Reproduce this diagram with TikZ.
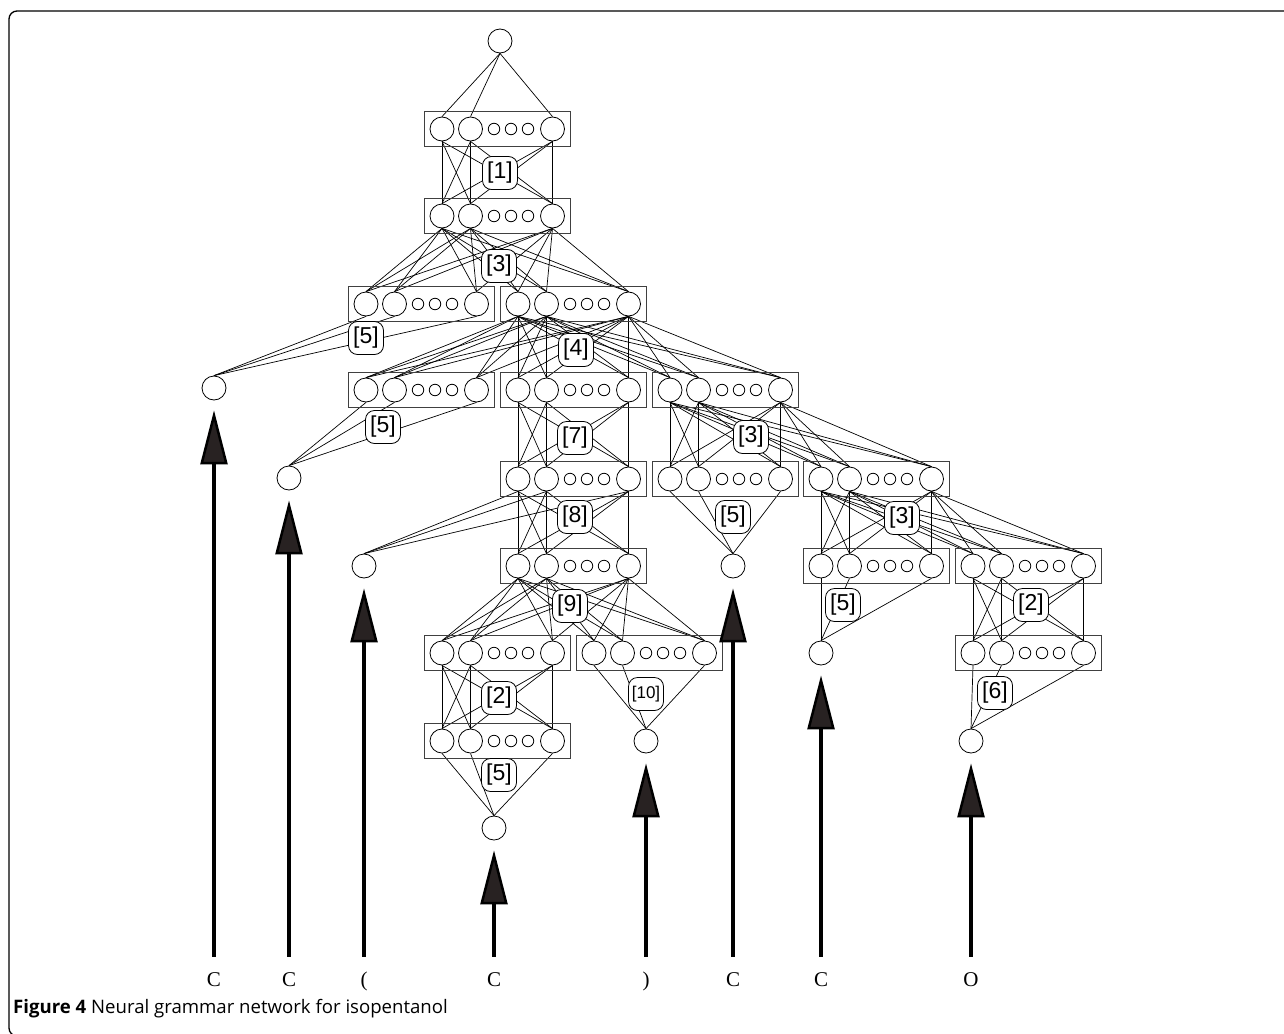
\documentclass[tikz,border=0pt]{standalone}
\usepackage{fontspec}
\setmainfont{Liberation Serif}
\setsansfont{Liberation Sans}
\newfontfamily\capfont{Open Sans}
\usetikzlibrary{arrows.meta}

\definecolor{tipgray}{RGB}{40,34,34}

\pgfdeclarelayer{wires}
\pgfsetlayers{wires,main}

\tikzset{
  neuron/.style={draw, circle, fill=white, minimum size=24pt, inner sep=0pt, line width=0.8pt},
  minineuron/.style={draw, circle, fill=white, minimum size=11.5pt, inner sep=0pt, line width=0.8pt},
  layerbox/.style={draw=black!75, rectangle, minimum width=146pt, minimum height=35pt, line width=1pt},
  rulebox/.style={draw, fill=white, rounded corners=9pt, minimum width=35pt, minimum height=33pt, inner sep=1pt, line width=0.8pt, font=\sffamily\fontsize{23}{23}\selectfont},
  wire/.style={line width=0.7pt},
  symb/.style={inner sep=0pt, text height=14pt, text depth=0pt, font=\fontsize{21}{21}\selectfont},
  feed/.style={line width=4pt, shorten <=15pt, shorten >=10pt, -{Triangle[length=54pt, width=27pt, line width=2.5pt, fill=tipgray]}},
}

% one layer: box, three big units and three small ones
\newcommand{\nnlayer}[3]{%
  \node[layerbox] (#1) at (#2,#3) {};
  \node[neuron] (#1-1) at (#2-55,#3) {};
  \node[neuron] (#1-2) at (#2-26.5,#3) {};
  \node[neuron] (#1-4) at (#2+55.5,#3) {};
  \foreach \dx [count=\k] in {-3,14,31} {
    \node[minineuron] (#1-s\k) at ({#2+(\dx)},#3) {};
  }
}
% all units of #1 to all units of #2
\newcommand{\fullwire}[2]{%
  \foreach \a in {1,2,4} {
    \foreach \b in {1,2,4} {
      \draw[wire] (#1-\a.south) -- (#2-\b.north);
    }
  }
}
% all units of #1 to the single node #2
\newcommand{\mergewire}[2]{%
  \foreach \a in {1,2,4} {
    \draw[wire] (#1-\a.south) -- (#2.north);
  }
}

\begin{document}
\begin{tikzpicture}[x=1pt,y=-1pt]
\useasboundingbox (0,0) rectangle (1284,1033);
\begin{scope}
\clip (0,0) rectangle (1284,1033);
\draw[line width=1.3pt, rounded corners=8pt] (1300,11) -- (9,11) -- (9,1036) -- (60,1036);
\end{scope}

% layers
\nnlayer{A1}{497}{129}
\nnlayer{A2}{497}{216}
\nnlayer{B1}{421}{304}
\nnlayer{B2}{573}{304}
\nnlayer{C1}{421}{390}
\nnlayer{C2}{573}{390}
\nnlayer{C3}{725}{390}
\nnlayer{D1}{573}{479}
\nnlayer{D2}{725}{479}
\nnlayer{D3}{876}{479}
\nnlayer{E1}{573}{566}
\nnlayer{E2}{876}{566}
\nnlayer{E3}{1028}{566}
\nnlayer{F1}{497}{653}
\nnlayer{F2}{649}{653}
\nnlayer{F3}{1028}{653}
\nnlayer{G1}{497}{741}

% single units, numbered like the input symbols below them
\node[neuron] (top) at (500,41) {};
\node[neuron] (n1) at (214,388) {};
\node[neuron] (n2) at (289,478) {};
\node[neuron] (n3) at (364,566) {};
\node[neuron] (n4) at (494,828) {};
\node[neuron] (n5) at (646,741) {};
\node[neuron] (n6) at (733,566) {};
\node[neuron] (n7) at (821,653) {};
\node[neuron] (n8) at (971,741) {};

\begin{pgfonlayer}{wires}
\foreach \b in {1,2,4} {
  \draw[wire] (top.south) -- (A1-\b.north);
}
\fullwire{A1}{A2}
\fullwire{A2}{B1} \fullwire{A2}{B2}
\mergewire{B1}{n1}
\fullwire{B2}{C1} \fullwire{B2}{C2} \fullwire{B2}{C3}
\mergewire{C1}{n2}
\fullwire{C2}{D1}
\fullwire{C3}{D2} \fullwire{C3}{D3}
\mergewire{D1}{n3} \fullwire{D1}{E1}
\mergewire{D2}{n6}
\fullwire{D3}{E2} \fullwire{D3}{E3}
\fullwire{E1}{F1} \fullwire{E1}{F2}
\mergewire{E2}{n7}
\fullwire{E3}{F3}
\fullwire{F1}{G1}
\mergewire{F2}{n5}
\mergewire{F3}{n8}
\mergewire{G1}{n4}
\end{pgfonlayer}

% rule labels
\node[rulebox] (r1) at (500,173) {[1]};
\node[rulebox] (r3a) at (499,266) {[3]};
\node[rulebox] (r5a) at (366,338) {[5]};
\node[rulebox] (r4) at (576,350) {[4]};
\node[rulebox] (r5b) at (383,427) {[5]};
\node[rulebox] (r7) at (575,438) {[7]};
\node[rulebox] (r3b) at (751,437) {[3]};
\node[rulebox] (r8) at (575,517) {[8]};
\node[rulebox] (r5c) at (733,517) {[5]};
\node[rulebox] (r3c) at (902,518) {[3]};
\node[rulebox] (r9) at (570,606) {[9]};
\node[rulebox] (r5d) at (843,605) {[5]};
\node[rulebox] (r2a) at (1031,605) {[2]};
\node[rulebox] (r2b) at (499,698) {[2]};
\node[rulebox, font=\sffamily\fontsize{17}{17}\selectfont] (r10) at (646,694) {[10]};
\node[rulebox] (r6) at (995,693) {[6]};
\node[rulebox] (r5e) at (499,775) {[5]};

% input symbols
\node[symb, anchor=base] (t1) at (214,986) {C};
\node[symb, anchor=base] (t2) at (289,986) {C};
\node[symb, anchor=base] (t3) at (364,986) {(};
\node[symb, anchor=base] (t4) at (494,986) {C};
\node[symb, anchor=base] (t5) at (646,986) {)};
\node[symb, anchor=base] (t6) at (733,986) {C};
\node[symb, anchor=base] (t7) at (821,986) {C};
\node[symb, anchor=base] (t8) at (971,986) {O};

\foreach \i in {1,...,8} {
  \draw[feed] (t\i.north) -- (n\i.south);
}

\node[anchor=base west, inner sep=0pt, font=\capfont\fontsize{18.6}{18.6}\selectfont] (caption) at (13,1013) {\textbf{Figure 4} Neural grammar network for isopentanol};
\end{tikzpicture}
\end{document}
